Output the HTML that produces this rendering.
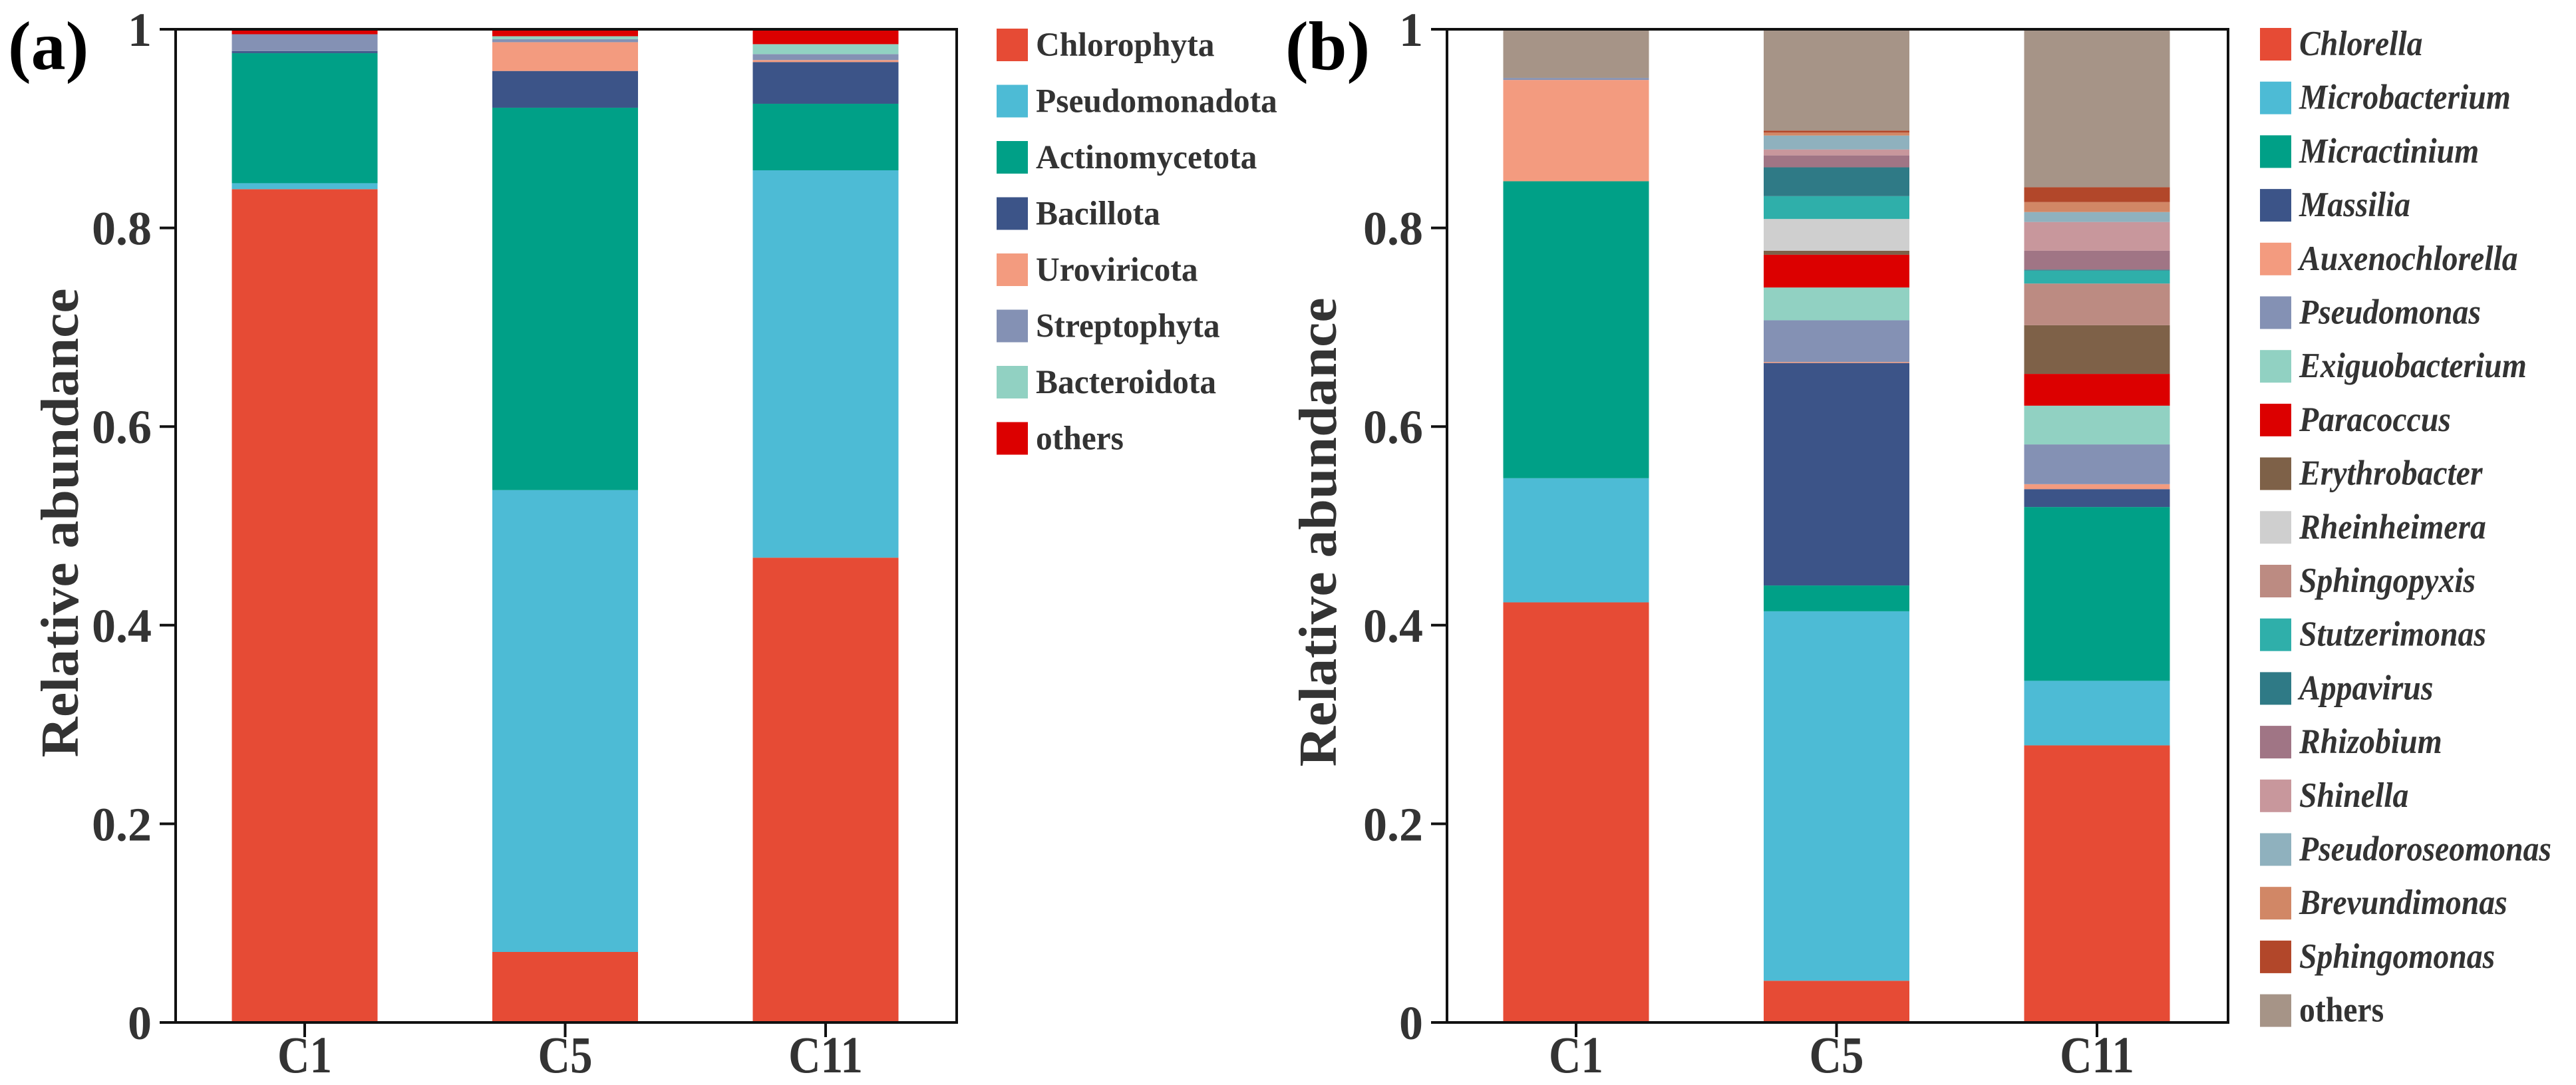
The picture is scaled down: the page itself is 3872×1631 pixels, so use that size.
<!DOCTYPE html>
<html><head><meta charset="utf-8"><style>
html,body{margin:0;padding:0;background:#fff;}
svg{display:block;font-family:"Liberation Serif","Times New Roman",serif;}
svg text{font-family:"Liberation Serif","Times New Roman",serif;}
</style></head>
<body>
<svg id="fig" width="3872" height="1631" viewBox="0 0 3872 1631" xmlns="http://www.w3.org/2000/svg"></svg>
<script>
// ---- shared data ----
const categories = ["C1","C5","C11"];
const yTicks = [0,0.2,0.4,0.6,0.8,1];
const yTickLabels = ["0","0.2","0.4","0.6","0.8","1"];

// ---- panel (a) phylum ----
const namesA = ["Chlorophyta","Pseudomonadota","Actinomycetota","Bacillota","Uroviricota","Streptophyta","Bacteroidota","others"];
const colorsA = ["#E64B35","#4DBBD5","#00A087","#3C5488","#F39B7F","#8491B4","#91D1C2","#DC0000"];
const a_C1  = [0.839,0.006,0.131,0.002,0.000,0.017,0.000,0.005];
const a_C5  = [0.071,0.465,0.385,0.037,0.029,0.003,0.003,0.007];
const a_C11 = [0.468,0.390,0.067,0.042,0.002,0.006,0.010,0.015];

// ---- panel (b) genus ----
const namesB = ["Chlorella","Microbacterium","Micractinium","Massilia","Auxenochlorella","Pseudomonas","Exiguobacterium","Paracoccus","Erythrobacter","Rheinheimera","Sphingopyxis","Stutzerimonas","Appavirus","Rhizobium","Shinella","Pseudoroseomonas","Brevundimonas","Sphingomonas","others"];
const colorsB = ["#E64B35","#4DBBD5","#00A087","#3C5488","#F39B7F","#8491B4","#91D1C2","#DC0000","#7E6148","#CFCFCF","#BC8B82","#2FAFAA","#2F7A86","#A07585","#C8979C","#8FB1BE","#D18766","#B2472A","#A69487"];
const b_C1  = [0.423,0.125,0.299,0.000,0.102,0.002,0,0,0,0,0,0,0,0,0,0,0,0,0.049];
const b_C5  = [0.042,0.372,0.026,0.224,0.001,0.042,0.033,0.033,0.004,0.032,0.000,0.023,0.029,0.012,0.006,0.014,0.003,0.002,0.102];
const b_C11 = [0.279,0.065,0.175,0.018,0.005,0.040,0.039,0.032,0.049,0.000,0.042,0.013,0.001,0.019,0.029,0.010,0.010,0.015,0.159];

const NS="http://www.w3.org/2000/svg";
const FONT='"Liberation Serif","Times New Roman",serif';
const svg=document.getElementById('fig');
function mk(tag,attrs,parent){const e=document.createElementNS(NS,tag);for(const k in attrs)e.setAttribute(k,attrs[k]);if(tag==='text')e.setAttribute('font-family',FONT);(parent||svg).appendChild(e);return e;}

function panel(opt){
  const g=mk('g',{});
  
  
  const L=opt.left,R=opt.right,T=44,B=1537;
  const y=v=>B-v*(B-T);
  const step=391.5, bw=219;
  const x=i=>L+194+i*step;
  opt.series.forEach((vals,ci)=>{
    let acc=0;
    vals.forEach((v,si)=>{
      if(v<=0){return;}
      const r=mk('rect',{x:x(ci)-bw/2,y:y(acc+v),width:bw,height:y(acc)-y(acc+v),fill:opt.colors[si]},g);
      
      
      acc+=v;
    });
  });
  const fr=mk('rect',{x:L,y:T,width:R-L,height:B-T,fill:'none',stroke:'#111','stroke-width':4},g);
  
  
  yTicks.forEach((t,i)=>{
    const ln=mk('line',{x1:L-24,x2:L,y1:y(t),y2:y(t),stroke:'#111','stroke-width':4},g);
    
    
    const tx=mk('text',{x:L-36,y:y(t)+25,'text-anchor':'end','font-size':72,'font-weight':'bold',fill:'#333'},g);
    tx.textContent=yTickLabels[i];
    
    
  });
  categories.forEach((c,i)=>{
    const ln=mk('line',{x1:x(i),x2:x(i),y1:B,y2:B+22,stroke:'#111','stroke-width':4},g);
    
    
    const tx=mk('text',{x:x(i),y:1612,'text-anchor':'middle','font-size':78,'font-weight':'bold',fill:'#333',transform:`translate(${x(i)} 0) scale(0.86 1) translate(${-x(i)} 0)`},g);
    tx.textContent=c;
    
    
  });
  const yt=mk('text',{x:0,y:0,'text-anchor':'middle','font-size':80,'font-weight':'bold',fill:'#333',textLength:705,lengthAdjust:'spacingAndGlyphs',transform:`translate(${opt.titleX} ${opt.titleY}) rotate(-90)`},g);
  yt.textContent='Relative abundance';
  
  
  const pl=mk('text',{x:opt.labelX,y:104,'font-size':104,'font-weight':'bold',fill:'#000'},g);
  pl.textContent=opt.label;
  
  
  opt.names.forEach((n,i)=>{
    const cy=opt.legY0+i*opt.legStep;
    const lg=mk('g',{},g);
    
    
    mk('rect',{x:opt.legX,y:cy-24,width:47,height:49,fill:opt.colors[i]},lg);
    const ital=opt.italic && n!=='others';
    const tx=mk('text',{x:opt.legX+59,y:cy+17,'font-size':opt.legFont,'font-weight':'bold','font-style':ital?'italic':'normal',fill:'#333',transform:`translate(${opt.legX+59} 0) scale(${opt.legScale} 1) translate(${-(opt.legX+59)} 0)`},lg);
    tx.textContent=n;
  });
}

panel({id:'a',left:264,right:1438,series:[a_C1,a_C5,a_C11],names:namesA,colors:colorsA,
  titleX:117,titleY:786,label:'(a)',labelX:12,legX:1498,legY0:67,legStep:84.5,legFont:51,italic:false,legScale:0.97});
panel({id:'b',left:2175,right:3349,series:[b_C1,b_C5,b_C11],names:namesB,colors:colorsB,
  titleX:2008,titleY:800,label:'(b)',labelX:1932,legX:3397,legY0:66,legStep:80.7,legFont:53,italic:true,legScale:0.9});
</script>
</body></html>
